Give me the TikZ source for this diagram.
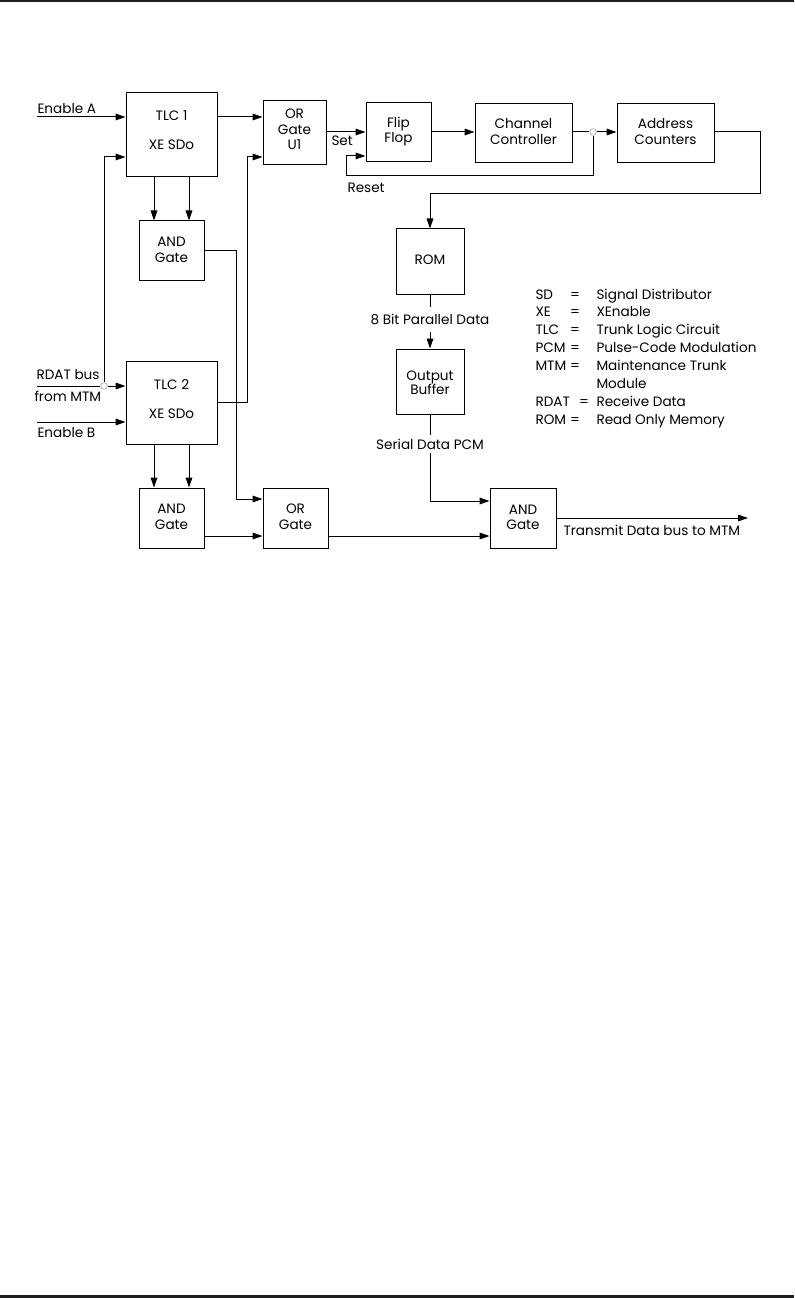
\documentclass[tikz,border=0pt]{standalone}
\usepackage{fontspec}
\setmainfont{Poppins}
\usetikzlibrary{arrows.meta,fit}
\begin{document}
\begin{tikzpicture}[x=0.75pt,y=-0.75pt, line width=0.75pt,
  box/.style={draw, inner sep=0pt, line width=0.75pt},
  arr/.style={-{Triangle[length=7.5pt,width=5pt]}},
  lbl/.style={inner sep=0pt, anchor=mid, font=\fontsize{10.2}{12}\selectfont},
  lbw/.style={lbl, anchor=mid west},
  gap/.style={lbl, anchor=center, text depth=0pt},
  jn/.style={circle, draw=gray!70, fill=white, inner sep=0pt, minimum size=5pt, line width=0.5pt}]
\useasboundingbox (0,0) rectangle (794,1298);
\fill[black!88] (0,0) rectangle (794,2.5);
\fill[black!88] (0,1295) rectangle (794,1298);

% boxes
\node[box, fit={(126,93) (217,177)}] (tlc1) {};
\node[box, fit={(263,101) (326,165)}] (oru1) {};
\node[box, fit={(366,103) (431,162)}] (ff) {};
\node[box, fit={(475,104) (572,163)}] (cc) {};
\node[box, fit={(617,104) (714,163)}] (ac) {};
\node[box, fit={(139,221) (204,280)}] (and1) {};
\node[box, fit={(396,229) (464,294)}] (rom) {};
\node[box, fit={(126,361) (217,444)}] (tlc2) {};
\node[box, fit={(396,349) (464,414)}] (ob) {};
\node[box, fit={(139,488) (204,548)}] (and2) {};
\node[box, fit={(263,488) (328,548)}] (or2) {};
\node[box, fit={(490,488) (556,548)}] (and3) {};

% box texts
\node[lbl] (t1a) at (171.5,117) {TLC 1};
\node[lbl] (t1b) at (171.5,146) {XE SDo};
\node[lbl] (o1a) at (294.5,115) {OR};
\node[lbl] (o1b) at (294.5,131) {Gate};
\node[lbl] (o1c) at (294.5,146) {U1};
\node[lbl] (ffa) at (398.5,124) {Flip};
\node[lbl] (ffb) at (398.5,139) {Flop};
\node[lbl] (cca) at (523.5,125) {Channel};
\node[lbl] (ccb) at (523.5,141) {Controller};
\node[lbl] (aca) at (665.5,125) {Address};
\node[lbl] (acb) at (665.5,141) {Counters};
\node[lbl] (a1a) at (171.5,243) {AND};
\node[lbl] (a1b) at (171.5,259) {Gate};
\node[lbl] (roma) at (430,261) {ROM};
\node[lbl] (t2a) at (171.5,386) {TLC 2};
\node[lbl] (t2b) at (171.5,415) {XE SDo};
\node[lbl] (oba) at (430,377) {Output};
\node[lbl] (obb) at (430,391) {Buffer};
\node[lbl] (a2a) at (171.5,510) {AND};
\node[lbl] (a2b) at (171.5,526) {Gate};
\node[lbl] (o2a) at (295.5,510) {OR};
\node[lbl] (o2b) at (295.5,526) {Gate};
\node[lbl] (a3a) at (523,511) {AND};
\node[lbl] (a3b) at (523,526) {Gate};

% free labels
\node[lbw] (lea) at (37,110) {Enable A};
\node[lbw] (lrd) at (36,376) {RDAT bus};
\node[lbw] (lfm) at (34,398) {from MTM};
\node[lbw] (leb) at (37,434) {Enable B};
\node[lbw] (lset) at (331,142) {Set};
\node[lbw] (lres) at (347,189) {Reset};
\node[lbw] (ltx) at (563,532) {Transmit Data bus to MTM};
\node[gap, minimum height=18pt] (pd) at (430,319) {8 Bit Parallel Data};
\node[gap, minimum height=13pt] (sd) at (430,444) {Serial Data PCM};

% legend
\node[lbw] at (535,296) {SD};   \node[lbl] at (575,296) {=}; \node[lbw] at (596,296) {Signal Distributor};
\node[lbw] at (535,313) {XE};   \node[lbl] at (575,313) {=}; \node[lbw] at (596,313) {XEnable};
\node[lbw] at (535,331) {TLC};  \node[lbl] at (575,331) {=}; \node[lbw] at (596,331) {Trunk Logic Circuit};
\node[lbw] at (535,349) {PCM};  \node[lbl] at (575,349) {=}; \node[lbw] at (596,349) {Pulse-Code Modulation};
\node[lbw] at (535,367) {MTM};  \node[lbl] at (575,367) {=}; \node[lbw] at (596,367) {Maintenance Trunk};
\node[lbw] at (596,385) {Module};
\node[lbw] at (535,403) {RDAT}; \node[lbl] at (584,403) {=}; \node[lbw] at (596,403) {Receive Data};
\node[lbw] at (535,421) {ROM};  \node[lbl] at (575,421) {=}; \node[lbw] at (596,421) {Read Only Memory};

% coordinates
\coordinate (ea) at (37,117);
\coordinate (rd) at (37,386);
\coordinate (eb) at (37,422);
\coordinate (r1) at (0,132);
\coordinate (rs) at (346,176);
\coordinate (rf) at (760,194);
\coordinate (tx) at (748,519);
\node[jn] (j1) at (104,386) {};
\node[jn] (j2) at (593,132) {};

% connectors left
\draw[arr] (ea) -- (ea -| tlc1.west);
\draw[arr] (tlc1.east |- ea) -- (oru1.west |- ea);
\draw (rd) -- (j1);
\draw[arr] (j1) -- (j1 -| tlc2.west);
\draw[arr] (j1) |- ([yshift=-16.5pt]tlc1.west);
\draw[arr] (eb) -- (eb -| tlc2.west);
\draw[arr] ([xshift=-13.125pt]tlc1.south) -- ([xshift=-13.125pt]tlc1.south |- and1.north);
\draw[arr] ([xshift=13.125pt]tlc1.south) -- ([xshift=13.125pt]tlc1.south |- and1.north);
\draw[arr] ([xshift=-13.125pt]tlc2.south) -- ([xshift=-13.125pt]tlc2.south |- and2.north);
\draw[arr] ([xshift=13.125pt]tlc2.south) -- ([xshift=13.125pt]tlc2.south |- and2.north);
\draw[arr] (and1.east) -- ++(32,0) |- ([yshift=14.25pt]or2.west);
\draw[arr] (tlc2.east) -- ++(30,0) |- ([yshift=-18pt]oru1.west);
\draw[arr] ([yshift=-13.5pt]and2.east) -- ([yshift=-13.5pt]or2.west);
\draw[arr] ([yshift=-13.5pt]or2.east) -- ([yshift=-13.5pt]and3.west);

% connectors top row
\draw[arr] (oru1.east |- r1) -- (ff.west |- r1);
\draw[arr] (ff.east |- r1) -- (cc.west |- r1);
\draw (cc.east |- r1) -- (j2);
\draw[arr] (j2) -- (ac.west |- r1);
\draw[arr] (j2) |- (rs) |- ([yshift=-17.6pt]ff.west);
\draw[arr] (ac.east |- r1) -| (rf) -| (rom.north);

% middle column
\draw (rom.south) -- (pd.north);
\draw[arr] (pd.south) -- (ob.north);
\draw (ob.south) -- (sd.north);
\draw[arr] (sd.south) |- ([yshift=12.75pt]and3.west);
\draw[arr] (and3.east) -- (and3.east -| tx);
\end{tikzpicture}
\end{document}
